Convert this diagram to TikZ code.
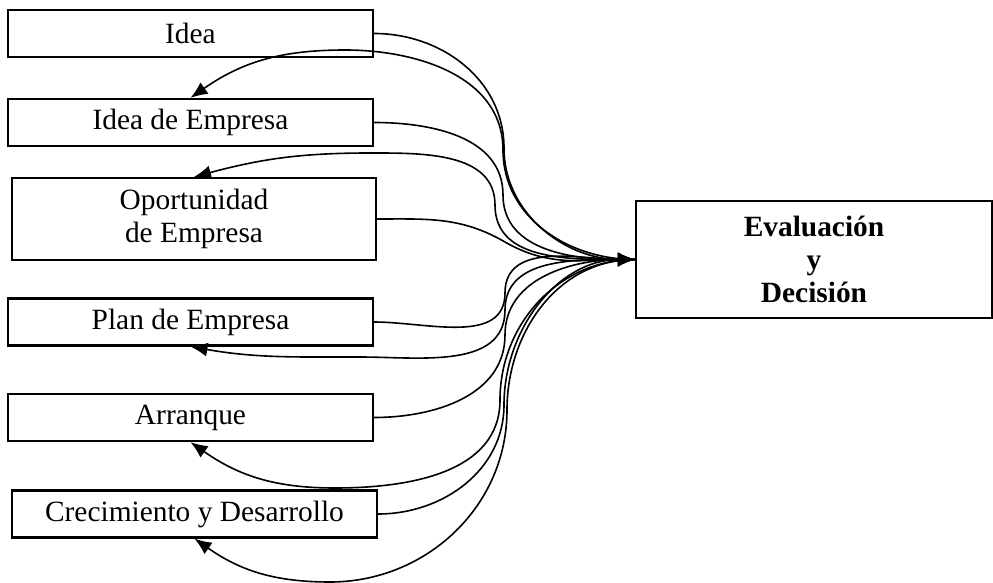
\documentclass[tikz,border=0pt]{standalone}
\usepackage{fontspec}
\setmainfont{Liberation Serif}
\usetikzlibrary{arrows.meta,positioning}

\begin{document}
\begin{tikzpicture}[x=0.5pt, y=-0.5pt, >={Latex[length=8.5pt,width=7pt]}, line width=0.8pt,
      etapa/.style={rectangle,draw=black,line width=1.1pt,minimum width=182.5pt,minimum height=23.5pt,
        inner sep=0pt,align=center,font=\fontsize{14.7}{16.5}\selectfont},
      decide/.style={etapa,minimum width=178pt,minimum height=58.5pt,
        font=\fontsize{14.7}{16.5}\selectfont\bfseries}]
      \useasboundingbox (0,0) rectangle (993,583);
      \node[etapa]    at (190.5,33.5)  (idea) {Idea};
      \node[etapa]    at (190.5,122.5) (ideaemp) {Idea de Empresa};
      \node[etapa,minimum width=182pt,minimum height=41pt] at (194,219) (oport) {Oportunidad\\de Empresa};
      \node[etapa]    at (190.5,322)   (plan) {Plan de Empresa};
      \node[etapa]    at (190.5,417.5) (arranque) {Arranque};
      \node[etapa]    at (194.5,514)   (crec) {Crecimiento y Desarrollo};
      \node[decide]   at (814,259.5)   (eval) {Evaluaci\'on\\y\\Decisi\'on};
      % hacia la evaluacion
      \draw[->] (idea.east) to[out=0,in=90] (504,148) to[out=-90,in=180] (eval.west);
      \draw[->] (ideaemp.east) to[out=0,in=90] (503,195) to[out=-90,in=180] (eval.west);
      \draw[->] (oport.east) to[out=0,in=150] (505,242) to[out=-30,in=180] (eval.west);
      \draw[->] (plan.east) to[out=0,in=-90] (505,293) to[out=90,in=180] (eval.west);
      \draw[->] (arranque.east) to[out=0,in=-90] (505,335) to[out=90,in=180] (eval.west);
      \draw[->] (crec.east) to[out=0,in=-90] (504,405) to[out=90,in=180] (eval.west);
      % de vuelta a cada etapa
      \draw[->] (eval.west) to[out=180,in=-90] (503,150) to[out=90,in=0] (345,50) to[out=180,in=35] (ideaemp.north);
      \draw[->] (eval.west) to[out=180,in=-90] (495,205) to[out=90,in=0] (370,153) to[out=180,in=15] (oport.north);
      \draw[->] (eval.west) to[out=180,in=90] (505,310) to[out=-90,in=0] (360,357) to[out=180,in=-10] (plan.south);
      \draw[->] (eval.west) to[out=180,in=90] (500,400) to[out=-90,in=0] (335,488) to[out=180,in=-35] (arranque.south);
      \draw[->] (eval.west) to[out=180,in=90] (507,410) to[out=-90,in=0] (330,582) to[out=180,in=-35] (crec.south);
    \end{tikzpicture}
\end{document}
